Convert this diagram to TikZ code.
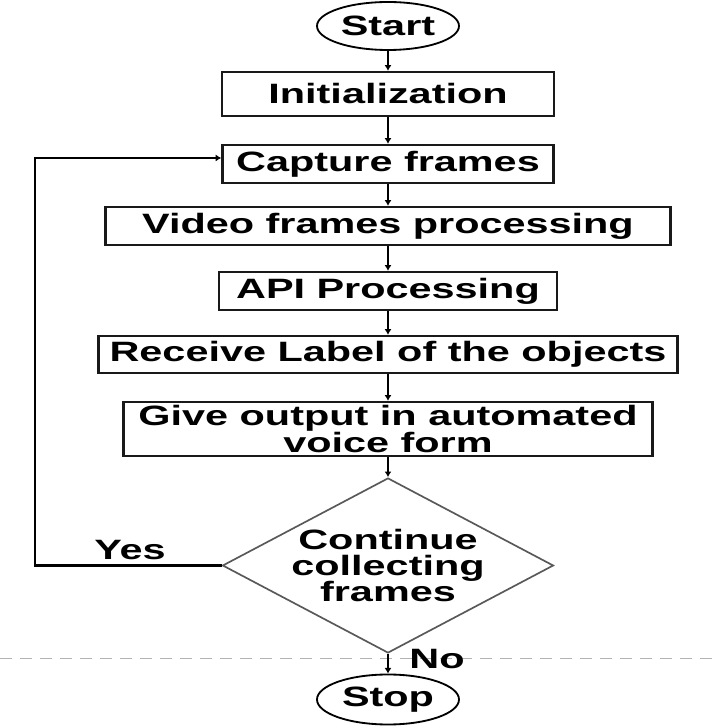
\documentclass[tikz,border=0pt]{standalone}
\usepackage{fontspec}
\newfontfamily\chartfont{Liberation Sans}[FakeStretch=1.48]
\usetikzlibrary{shapes.geometric, arrows.meta, positioning}

\begin{document}
\begin{tikzpicture}[
    every node/.style={font=\chartfont\bfseries\fontsize{19.9pt}{18.8pt}\selectfont},
    block/.style={rectangle, draw=black!90, line width=1.7pt, inner sep=0pt, minimum height=0.95cm, align=center},
    terminal/.style={ellipse, draw=black, line width=1.3pt, minimum width=3.55cm, minimum height=1.2cm, inner sep=0pt},
    decision/.style={diamond, draw=black!65, line width=1.2pt, minimum width=8.275cm, minimum height=4.375cm, inner sep=0pt},
    flow/.style={-{Latex[length=4pt, width=5pt]}, draw=black, line width=1.7pt},
    guide/.style={draw=gray!60, line width=0.6pt, dash pattern=on 0.3cm off 0.2cm},
]
\useasboundingbox (0,0) rectangle (17.925,18.15);
% GUIDE LINE
\coordinate (guideleft) at (0, 1.7);
\coordinate (guideright) at (17.925, 1.7);
\draw[guide] (guideleft) -- (guideright);
% MAIN FLOW
\node[terminal] (start) at (9.7, 17.5) {Start};
\node[block, minimum width=8.3cm, minimum height=1.1cm] (init) at (9.7, 15.8) {Initialization};
\node[block, minimum width=8.275cm] (capture) at (9.7, 14.05) {Capture frames};
\node[block, minimum width=14.125cm] (video) at (9.7, 12.5) {Video frames processing};
\node[block, minimum width=8.45cm] (api) at (9.7, 10.875) {API Processing};
\node[block, minimum width=14.475cm, minimum height=0.925cm] (receive) at (9.7, 9.2875) {Receive Label of the objects};
\node[block, minimum width=13.225cm, minimum height=1.35cm] (voice) at (9.7, 7.425) {Give output in automated\\voice form};
\node[decision] (continue) at (9.7, 4.0125) {};
\node[align=center] (continuetext) at (continue) {Continue\\collecting\\frames};
\node[terminal, minimum height=1.25cm] (stop) at (9.7, 0.6625) {Stop};
\draw[flow] (start) -- (init);
\draw[flow] (init) -- (capture);
\draw[flow] (capture) -- (video);
\draw[flow] (video) -- (api);
\draw[flow] (api) -- (receive);
\draw[flow] (receive) -- (voice);
\draw[flow] (voice) -- (continue);
% ANSWERS
\draw[flow] (continue) -- (stop);
\node (no) at (10.925, 1.675) {No};
\coordinate (loopturn) at (0.875, 4.0125);
\draw[flow] (continue.west) -- (loopturn) |- ([yshift=0.15cm]capture.west);
\node (yes) at (3.25, 4.4) {Yes};
\end{tikzpicture}
\end{document}
